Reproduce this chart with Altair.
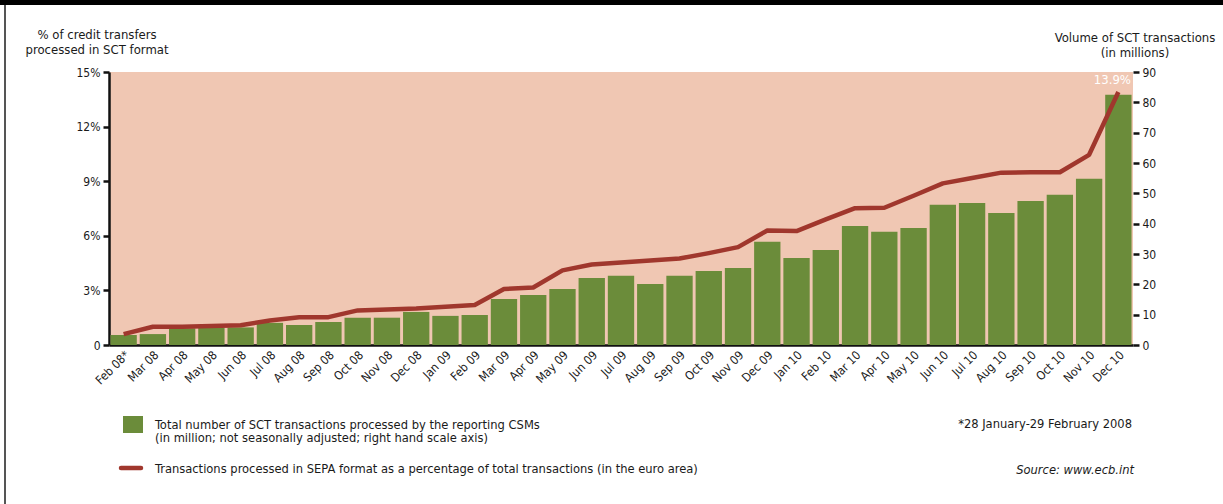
import altair as alt
import pandas as pd

months = ["Feb 08*", "Mar 08", "Apr 08", "May 08", "Jun 08", "Jul 08", "Aug 08", "Sep 08",
          "Oct 08", "Nov 08", "Dec 08", "Jan 09", "Feb 09", "Mar 09", "Apr 09", "May 09",
          "Jun 09", "Jul 09", "Aug 09", "Sep 09", "Oct 09", "Nov 09", "Dec 09", "Jan 10",
          "Feb 10", "Mar 10", "Apr 10", "May 10", "Jun 10", "Jul 10", "Aug 10", "Sep 10",
          "Oct 10", "Nov 10", "Dec 10"]
volume = [3.3, 3.6, 5.5, 5.7, 5.8, 7.3, 6.6, 7.6, 9.0, 9.0, 10.9, 9.6, 9.9, 15.2, 16.5, 18.5,
          22.1, 22.8, 20.1, 22.8, 24.4, 25.4, 34.0, 28.7, 31.3, 39.2, 37.3, 38.6, 46.2, 46.8,
          43.5, 47.5, 49.5, 54.8, 82.5]
share = [0.6, 1.0, 1.0, 1.04, 1.09, 1.35, 1.52, 1.53, 1.9, 1.95, 2.0, 2.1, 2.2, 3.08, 3.16,
         4.1, 4.42, 4.53, 4.64, 4.75, 5.05, 5.38, 6.29, 6.26, 6.9, 7.52, 7.54, 8.2, 8.88, 9.18,
         9.47, 9.49, 9.49, 10.45, 13.9]
left_ticks = [0, 3, 6, 9, 12, 15]
right_ticks = [0, 10, 20, 30, 40, 50, 60, 70, 80, 90]

df = pd.DataFrame({"month": months, "volume": volume, "share": share})

FONT = "'DejaVu Sans Condensed', Roboto, sans-serif"
GREEN = "#6B8C3A"
RED = "#A0372D"
BG = "#F0C7B3"
TXT = "#1a1a1a"

xenc = alt.X("month:N", sort=months,
             scale=alt.Scale(paddingInner=0.1, paddingOuter=0.05),
             axis=alt.Axis(title=None, labelAngle=-45, labelFont=FONT, labelFontSize=12,
                           labelColor=TXT, ticks=False, domainColor="#111111",
                           domainWidth=2.5, labelPadding=4))

base = alt.Chart(df)

bars = base.mark_bar(color=GREEN).encode(
    x=xenc,
    y=alt.Y("volume:Q", scale=alt.Scale(domain=[0, 90], nice=False),
            axis=alt.Axis(orient="right", values=right_ticks, title=None, grid=False,
                          domain=False, tickColor="#111111", tickWidth=2.5, tickSize=6,
                          labelFont=FONT, labelFontSize=12, labelColor=TXT, labelPadding=3)),
)

line = base.mark_line(color=RED, strokeWidth=4.5, strokeJoin="round").encode(
    x=xenc,
    y=alt.Y("share:Q", scale=alt.Scale(domain=[0, 15], nice=False),
            axis=alt.Axis(orient="left", values=left_ticks, title=None, grid=False,
                          labelExpr="datum.value == 0 ? '0' : datum.value + '%'",
                          domainColor="#111111", domainWidth=2.5, tickColor="#111111",
                          tickWidth=2.5, tickSize=6, labelFont=FONT, labelFontSize=12,
                          labelColor=TXT, labelPadding=3)),
)

label = base.transform_filter(alt.datum.month == "Dec 10").transform_calculate(
    lbl="format(datum.share, '.1f') + '%'"
).mark_text(color="white", font=FONT, fontSize=13, dx=-6, dy=-12).encode(
    x=xenc,
    y=alt.Y("share:Q", scale=alt.Scale(domain=[0, 15], nice=False), axis=None),
    text="lbl:N",
)


def one():
    return alt.Chart(alt.Data(values=[{}]))


def txt(s, x, y, align="left", size=12.8, style="normal"):
    return one().mark_text(text=s, font=FONT, fontSize=size, color=TXT, align=align,
                           baseline="alphabetic", fontStyle=style).encode(
        x=alt.value(x), y=alt.value(y))


def rect(x1, x2, y1, y2, color):
    return one().mark_rect(color=color).encode(
        x=alt.value(x1), x2=alt.value(x2), y=alt.value(y1), y2=alt.value(y2))


annotations = [
    rect(-109, 1114, -72, -67, "#000000"),
    rect(-105, -103, -67, 432, "#555555"),
    txt("% of credit transfers", -12, -33, align="center", size=13),
    txt("processed in SCT format", -12, -18, align="center", size=13),
    txt("Volume of SCT transactions", 1026, -30, align="center", size=13),
    txt("(in millions)", 1026, -15, align="center", size=13),
    rect(14, 34, 344, 361, GREEN),
    one().mark_rule(color=RED, strokeWidth=4.5, strokeCap="round").encode(
        x=alt.value(12), x2=alt.value(32), y=alt.value(396)),
    txt("Total number of SCT transactions processed by the reporting CSMs", 46, 357),
    txt("(in million; not seasonally adjusted; right hand scale axis)", 46, 370),
    txt("Transactions processed in SEPA format as a percentage of total transactions (in the euro area)", 46, 401),
    txt("*28 January-29 February 2008", 1023, 356),
    txt("Source: www.ecb.int", 1025, 402, style="italic"),
]
annotations[-2] = txt("*28 January-29 February 2008", 1023, 356, align="right")
annotations[-1] = txt("Source: www.ecb.int", 1025, 402, align="right", style="italic")

chart = alt.layer(bars, line, label, *annotations).resolve_scale(y="independent").properties(
    width=1024, height=273,
    autosize=alt.AutoSizeParams(type="none"),
    padding={"left": 109, "top": 72, "right": 90, "bottom": 159},
    background="white",
).configure_view(fill=BG, stroke=None)

chart.save("out.html", embed_options={"renderer": "svg", "actions": False})
